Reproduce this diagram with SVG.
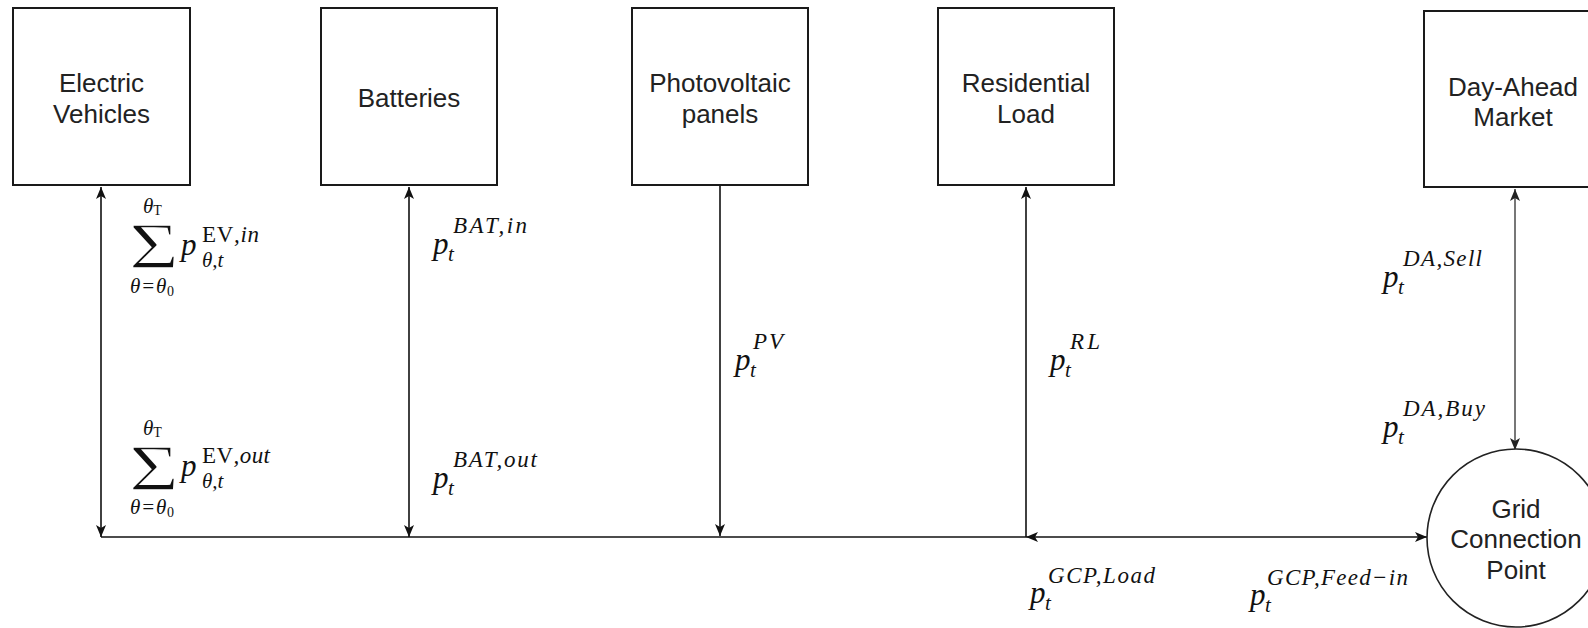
<svg xmlns="http://www.w3.org/2000/svg" width="1588" height="628" viewBox="0 0 1588 628">
<style>
.box{fill:#fff;stroke:#1a1a1a;stroke-width:2}
.lbl{font-family:"Liberation Sans",Arial,sans-serif;font-size:26px;fill:#222;text-anchor:middle}
.ln{fill:none;stroke:#111;stroke-width:1.6}
.m{font-family:"Liberation Serif","DejaVu Serif",serif;fill:#111}
.p{font-size:31px;font-style:italic}
.s{font-size:21px;font-style:italic}
.u{font-size:23px;font-style:italic}
.r{font-style:normal}
.sig{font-size:66px;font-style:normal;stroke:#fff;stroke-width:1.4}
</style>
<defs>
<marker id="ar" viewBox="0 0 12 10" refX="12" refY="5" markerWidth="12" markerHeight="10" markerUnits="userSpaceOnUse" orient="auto-start-reverse">
<path d="M0,0 L12,5 L0,10 L3,5 Z" fill="#111"/>
</marker>
<marker id="arg" viewBox="0 0 12 10" refX="12" refY="5" markerWidth="12" markerHeight="10" markerUnits="userSpaceOnUse" orient="auto-start-reverse">
<path d="M0,0 L12,5 L0,10 L3,5 Z" fill="#222"/>
</marker>
</defs>
<rect width="1588" height="628" fill="#fff"/>

<g id="connectors">
<line class="ln" x1="101" y1="187" x2="101" y2="537" marker-start="url(#ar)" marker-end="url(#ar)"/>
<line class="ln" x1="409" y1="187" x2="409" y2="537" marker-start="url(#ar)" marker-end="url(#ar)"/>
<line class="ln" x1="720" y1="186" x2="720" y2="536" marker-end="url(#ar)"/>
<line class="ln" x1="1026" y1="537" x2="1026" y2="187" marker-end="url(#ar)"/>
<line class="ln" x1="101" y1="537" x2="1026" y2="537"/>
<line class="ln" x1="1026" y1="537" x2="1427" y2="537" marker-start="url(#ar)" marker-end="url(#ar)"/>
<line class="ln" x1="1515" y1="189" x2="1515" y2="450" style="stroke:#555" marker-start="url(#arg)" marker-end="url(#arg)"/>
</g>

<g id="ev">
<rect class="box" x="13" y="8" width="177" height="177"/>
<text class="lbl" x="101.5" y="92">Electric</text>
<text class="lbl" x="101.5" y="123">Vehicles</text>
</g>
<g id="bat">
<rect class="box" x="321" y="8" width="176" height="177"/>
<text class="lbl" x="409" y="107">Batteries</text>
</g>
<g id="pv">
<rect class="box" x="632" y="8" width="176" height="177"/>
<text class="lbl" x="720" y="92">Photovoltaic</text>
<text class="lbl" x="720" y="123">panels</text>
</g>
<g id="rl">
<rect class="box" x="938" y="8" width="176" height="177"/>
<text class="lbl" x="1026" y="92">Residential</text>
<text class="lbl" x="1026" y="123">Load</text>
</g>
<g id="da">
<rect class="box" x="1424" y="11" width="177" height="176"/>
<text class="lbl" x="1513" y="96">Day-Ahead</text>
<text class="lbl" x="1513" y="126">Market</text>
</g>
<g id="gcp">
<circle cx="1516" cy="538" r="89" fill="#fff" stroke="#222" stroke-width="1.6"/>
<text class="lbl" x="1516" y="518">Grid</text>
<text class="lbl" x="1516" y="548">Connection</text>
<text class="lbl" x="1516" y="579">Point</text>
</g>

<g id="label-ev-in" class="m">
<text class="s" x="143" y="213">θ<tspan class="r" font-size="14" dy="2">T</tspan></text>
<text class="sig" transform="translate(154 268) scale(1.3 1)" x="0" y="0" text-anchor="middle">Σ</text>
<text class="p" x="181" y="255">p</text>
<text class="u" x="202" y="242" textLength="57" lengthAdjust="spacing"><tspan class="r">EV</tspan>,in</text>
<text class="s" x="202" y="267">θ,t</text>
<text class="s" x="130" y="293" textLength="44" lengthAdjust="spacing">θ=θ<tspan font-size="14" class="r" dy="3">0</tspan></text>
</g>
<g id="label-ev-out" class="m">
<text class="s" x="143" y="435">θ<tspan class="r" font-size="14" dy="2">T</tspan></text>
<text class="sig" transform="translate(154 490) scale(1.3 1)" x="0" y="0" text-anchor="middle">Σ</text>
<text class="p" x="181" y="476">p</text>
<text class="u" x="202" y="463" textLength="68" lengthAdjust="spacing"><tspan class="r">EV</tspan>,out</text>
<text class="s" x="202" y="488">θ,t</text>
<text class="s" x="130" y="514" textLength="44" lengthAdjust="spacing">θ=θ<tspan font-size="14" class="r" dy="3">0</tspan></text>
</g>

<g id="label-bat-in" class="m">
<text class="p" x="433" y="254">p</text><text class="s" x="448" y="261">t</text>
<text class="u" x="453" y="233" textLength="74" lengthAdjust="spacing">BAT,in</text>
</g>
<g id="label-bat-out" class="m">
<text class="p" x="433" y="488">p</text><text class="s" x="448" y="495">t</text>
<text class="u" x="453" y="467" textLength="84" lengthAdjust="spacing">BAT,out</text>
</g>
<g id="label-pv" class="m">
<text class="p" x="735" y="370">p</text><text class="s" x="750" y="377">t</text>
<text class="u" x="753" y="349" textLength="30" lengthAdjust="spacing">PV</text>
</g>
<g id="label-rl" class="m">
<text class="p" x="1050" y="370">p</text><text class="s" x="1065" y="377">t</text>
<text class="u" x="1070" y="349" textLength="30" lengthAdjust="spacing">RL</text>
</g>
<g id="label-gcp-load" class="m">
<text class="p" x="1030" y="603">p</text><text class="s" x="1045" y="610">t</text>
<text class="u" x="1048" y="583" textLength="107" lengthAdjust="spacing">GCP,Load</text>
</g>
<g id="label-gcp-feed" class="m">
<text class="p" x="1250" y="605">p</text><text class="s" x="1265" y="612">t</text>
<text class="u" x="1267" y="585" textLength="141" lengthAdjust="spacing">GCP,Feed−in</text>
</g>
<g id="label-da-sell" class="m">
<text class="p" x="1383" y="287">p</text><text class="s" x="1398" y="294">t</text>
<text class="u" x="1403" y="266" textLength="79" lengthAdjust="spacing">DA,Sell</text>
</g>
<g id="label-da-buy" class="m">
<text class="p" x="1383" y="437">p</text><text class="s" x="1398" y="444">t</text>
<text class="u" x="1403" y="416" textLength="82" lengthAdjust="spacing">DA,Buy</text>
</g>
</svg>
